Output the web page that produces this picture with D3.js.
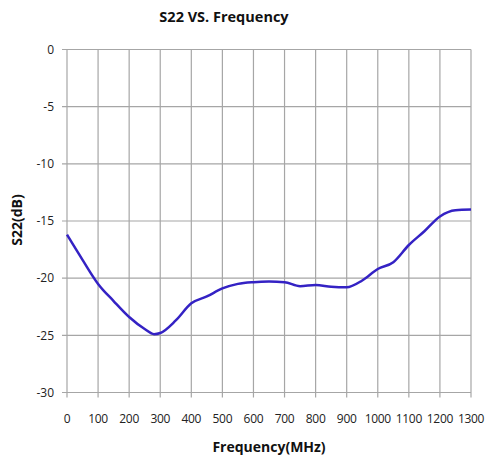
<!DOCTYPE html>
<html><head><meta charset="utf-8">
<script src="https://cdn.jsdelivr.net/npm/d3@7"></script>
<style>
body{margin:0;background:#fff;}
text{font-family:"Open Sans","Lato",sans-serif;}
</style></head>
<body><svg id="c" width="487" height="457"></svg>
<script>
const freq = [0,50,100,150,200,250,280,300,350,400,450,500,550,600,650,700,750,800,850,900,950,1000,1050,1100,1150,1200,1250,1300];
const s22  = [-16.2,-18.4,-20.5,-22.0,-23.4,-24.45,-24.9,-24.8,-23.7,-22.2,-21.6,-20.9,-20.5,-20.35,-20.3,-20.35,-20.7,-20.6,-20.75,-20.8,-20.2,-19.2,-18.6,-17.1,-15.9,-14.6,-14.05,-14.0];
const xTicks = [0,100,200,300,400,500,600,700,800,900,1000,1100,1200,1300];
const yTicks = [0,-5,-10,-15,-20,-25,-30];

const svg = d3.select("#c");
const x = d3.scaleLinear().domain([0,1300]).range([67,471]);
const y = d3.scaleLinear().domain([-30,0]).range([392.5,49.5]);

// grid
svg.append("g").selectAll("line").data(xTicks).join("line")
  .attr("x1",d=>x(d)).attr("x2",d=>x(d)).attr("y1",y(0)).attr("y2",y(-30)+5)
  .attr("stroke","#a6a6a6").attr("stroke-width",1.2);
svg.append("g").selectAll("line").data(yTicks).join("line")
  .attr("x1",x(0)-5).attr("x2",x(1300)).attr("y1",d=>y(d)).attr("y2",d=>y(d))
  .attr("stroke","#a6a6a6").attr("stroke-width",1.2);

// tick labels
svg.append("g").selectAll("text").data(yTicks).join("text")
  .attr("x",54).attr("y",d=>y(d)).attr("dy","0.35em").attr("text-anchor","end")
  .attr("font-size",12).attr("fill","#222").text(d=>d);
svg.append("g").selectAll("text").data(xTicks).join("text")
  .attr("x",d=>x(d)).attr("y",419).attr("dy","0.35em").attr("text-anchor","middle")
  .attr("font-size",12).attr("fill","#222").attr("letter-spacing",-0.3).text(d=>d);

// line
svg.append("path").datum(freq.map((f,i)=>[f,s22[i]]))
  .attr("d",d3.line().x(d=>x(d[0])).y(d=>y(d[1])).curve(d3.curveMonotoneX))
  .attr("fill","none").attr("stroke","#3422c4").attr("stroke-width",2.5);

// titles
svg.append("text").attr("x",224).attr("y",17).attr("dy","0.35em").attr("text-anchor","middle")
  .attr("font-size",14.5).attr("font-weight","bold").attr("fill","#111").text("S22 VS. Frequency");
svg.append("text").attr("x",269).attr("y",447).attr("dy","0.35em").attr("text-anchor","middle")
  .attr("font-size",14).attr("font-weight","bold").attr("fill","#111").text("Frequency(MHz)");
svg.append("text").attr("transform","translate(17,220) rotate(-90)").attr("dy","0.35em").attr("text-anchor","middle")
  .attr("font-size",14).attr("font-weight","bold").attr("fill","#111").text("S22(dB)");
</script></body></html>
